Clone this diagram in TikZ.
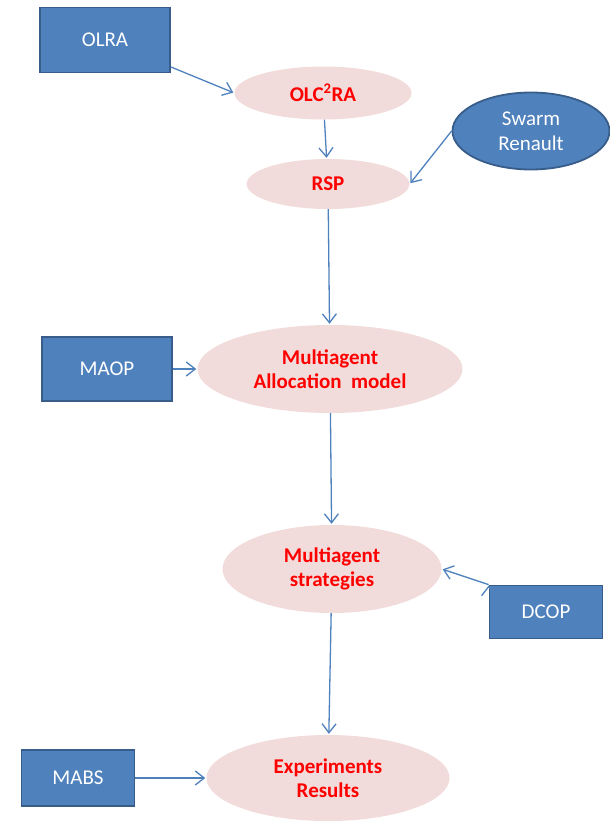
\documentclass[tikz,border=0pt]{standalone}
\usepackage{fontspec}
\setmainfont{Carlito}
\usetikzlibrary{shapes.geometric,positioning,arrows.meta}

\definecolor{boxblue}{HTML}{4F81BD}
\definecolor{boxedge}{HTML}{385D8A}
\definecolor{ellpink}{HTML}{F2DCDB}

\tikzset{
  source/.style={rectangle,draw=boxedge,line width=1.8pt,fill=boxblue,text=white,
    font=\fontsize{21}{25}\selectfont,inner sep=0pt},
  proc/.style={ellipse,fill=ellpink,text=red,align=center,inner sep=0pt,
    font=\fontsize{21}{24}\selectfont\bfseries},
  flow/.style={draw=boxblue,line width=1.3pt,-{Straight Barb[length=9pt,width=14pt]}}
}

\begin{document}
\begin{tikzpicture}[x=1pt,y=1pt,shorten >=1pt,node distance=2cm,on grid]
	   \useasboundingbox (0,0) rectangle (610,-822);
	   \node[proc,minimum width=177pt,minimum height=53pt] (olcra) at (323,-93) {OLC\textsuperscript{2}RA};
	   \node[proc,minimum width=163pt,minimum height=50pt] (rsp) [below=91pt of olcra,xshift=5pt] {RSP};
	   \node[proc,minimum width=265pt,minimum height=88pt] (mam) [below=185pt of rsp,xshift=2pt] {Multiagent\\Allocation\hspace{0.45em}model};
	   \node[proc,minimum width=219pt,minimum height=88pt] (mstrat) [below=200pt of mam,xshift=2pt] {Multiagent\\strategies};
	   \node[proc,minimum width=243pt,minimum height=86pt] (expres) [below=209pt of mstrat,xshift=-4pt] {Experiments\\Results};
	   \node[source,minimum width=130pt,minimum height=65pt] (olra) at (105,-40) {OLRA};
	   \node[source,ellipse,align=center,minimum width=157pt,minimum height=77pt] (swarm) at (531,-131) {Swarm\\Renault};
	   \node[source,minimum width=130pt,minimum height=64pt] (maop) [left=223pt of mam] {MAOP};
	   \node[source,minimum width=113pt,minimum height=53pt] (dcop) at (546,-612) {DCOP};
	   \node[source,minimum width=113pt,minimum height=56pt] (mabs) [left=250pt of expres] {MABS};
	    \path[flow]
	    (olra) edge (olcra.west)
	    (olcra) edge (rsp)
	    (swarm.west) edge (rsp.east)
	    (rsp) edge (mam)
	    (maop) edge (mam)
	    (mam) edge (mstrat)
	    (dcop.north west) edge (mstrat.east)
	    (mstrat) edge (expres)
	    (mabs) edge (expres);
	\end{tikzpicture}
\end{document}
